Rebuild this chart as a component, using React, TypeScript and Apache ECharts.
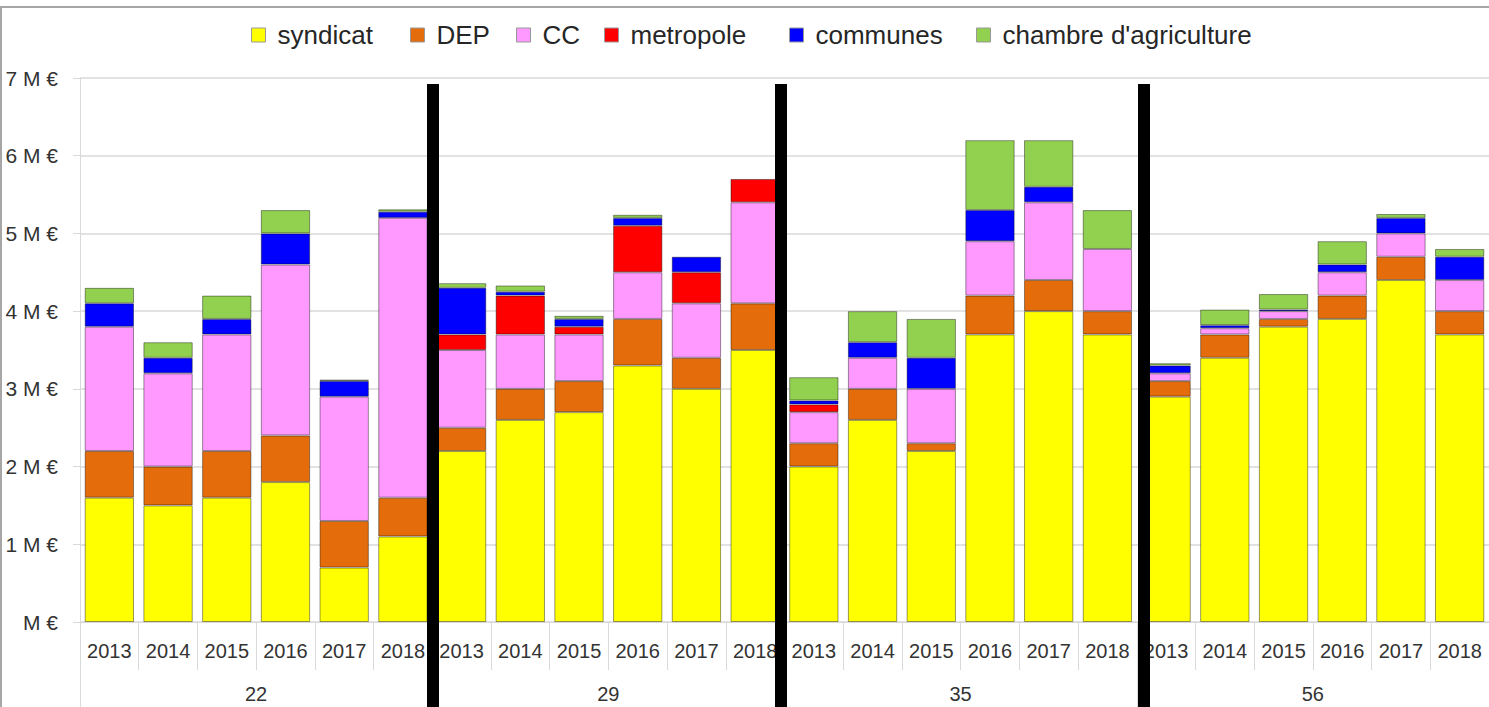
import React, { useEffect, useRef } from "react";
import * as echarts from "echarts";

const groups = ["22", "29", "35", "56"];
const years = ["2013", "2014", "2015", "2016", "2017", "2018"];
const seriesNames = ["syndicat", "DEP", "CC", "metropole", "communes", "chambre d'agriculture"];
const seriesColors = ["#FFFF00", "#E46C0A", "#FF99FF", "#FF0000", "#0000FF", "#92D050"];

// values in M€ — order: group 22 (2013..2018), 29, 35, 56
const syndicat = [1.6, 1.5, 1.6, 1.8, 0.7, 1.1, 2.2, 2.6, 2.7, 3.3, 3.0, 3.5, 2.0, 2.6, 2.2, 3.7, 4.0, 3.7, 2.9, 3.4, 3.8, 3.9, 4.4, 3.7];
const dep = [0.6, 0.5, 0.6, 0.6, 0.6, 0.5, 0.3, 0.4, 0.4, 0.6, 0.4, 0.6, 0.3, 0.4, 0.1, 0.5, 0.4, 0.3, 0.2, 0.3, 0.1, 0.3, 0.3, 0.3];
const cc = [1.6, 1.2, 1.5, 2.2, 1.6, 3.6, 1.0, 0.7, 0.6, 0.6, 0.7, 1.3, 0.4, 0.4, 0.7, 0.7, 1.0, 0.8, 0.1, 0.08, 0.1, 0.3, 0.3, 0.4];
const metropole = [0, 0, 0, 0, 0, 0, 0.2, 0.5, 0.1, 0.6, 0.4, 0.3, 0.1, 0, 0, 0, 0, 0, 0, 0, 0, 0, 0, 0];
const communes = [0.3, 0.2, 0.2, 0.4, 0.2, 0.08, 0.6, 0.05, 0.1, 0.1, 0.2, 0, 0.05, 0.2, 0.4, 0.4, 0.2, 0, 0.1, 0.04, 0.02, 0.1, 0.2, 0.3];
const chambre = [0.2, 0.2, 0.3, 0.3, 0.02, 0.03, 0.06, 0.08, 0.04, 0.04, 0, 0, 0.3, 0.4, 0.5, 0.9, 0.6, 0.5, 0.03, 0.2, 0.2, 0.3, 0.05, 0.1];
const seriesValues = [syndicat, dep, cc, metropole, communes, chambre];

const FONT = "'Liberation Sans', Arial, sans-serif";
const legendLefts = [251, 410, 516, 604, 789, 976];
const separatorXs = [427, 775, 1138];

export default function App() {
  const ref = useRef<HTMLDivElement>(null);
  useEffect(() => {
    if (!ref.current) return;
    const chart = echarts.init(ref.current, null, { renderer: "svg" });
    const categories: string[] = [];
    groups.forEach(() => years.forEach((y) => categories.push(y)));

    const option: any = {
      animation: false,
      backgroundColor: "#ffffff",
      legend: seriesNames.map((n, i) => ({
        data: [n],
        left: legendLefts[i],
        top: 22,
        padding: 0,
        icon: "rect",
        itemWidth: 14,
        itemHeight: 14,
        itemGap: 0,
        selectedMode: false,
        itemStyle: { borderColor: "#999999", borderWidth: 1 },
        textStyle: { fontFamily: FONT, fontSize: 26, color: "#262626", padding: [0, 0, 0, 7] },
      })),
      grid: { left: 80, top: 78, width: 1412, height: 544, containLabel: false },
      xAxis: [
        {
          type: "category",
          data: categories,
          position: "bottom",
          axisLine: { show: true, lineStyle: { color: "#d9d9d9", width: 1 } },
          axisTick: { show: true, length: 48, interval: 0, lineStyle: { color: "#d9d9d9" } },
          axisLabel: { interval: 0, margin: 19, fontFamily: FONT, fontSize: 20, color: "#333333" },
          splitLine: { show: false },
        },
        {
          type: "category",
          data: groups,
          position: "bottom",
          axisLine: { show: false },
          axisTick: { show: true, length: 95, interval: 0, lineStyle: { color: "#d9d9d9" } },
          axisLabel: { interval: 0, margin: 62, fontFamily: FONT, fontSize: 20, color: "#333333" },
          splitLine: { show: false },
        },
      ],
      yAxis: {
        type: "value",
        min: 0,
        max: 7,
        interval: 1,
        axisLine: { show: true, lineStyle: { color: "#d9d9d9" } },
        axisTick: { show: true, length: 7, lineStyle: { color: "#d9d9d9" } },
        axisLabel: {
          margin: 22,
          fontFamily: FONT,
          fontSize: 21,
          color: "#333333",
          formatter: (v: number) => (v === 0 ? "M €" : `${v} M €`),
        },
        splitLine: { show: true, lineStyle: { color: "#d9d9d9", width: 1.5 } },
      },
      series: seriesNames.map((n, i) => ({
        name: n,
        type: "bar",
        stack: "total",
        xAxisIndex: 0,
        barCategoryGap: "16%",
        itemStyle: { color: seriesColors[i], borderColor: "rgba(0,0,0,0.4)", borderWidth: 1 },
        data: seriesValues[i].map((v) => (v === 0 ? null : v)),
      })),
      graphic: [
        {
          type: "rect",
          z: 100,
          silent: true,
          shape: { x: 1, y: 7, width: 1600, height: 800 },
          style: { fill: "none", stroke: "#a6a6a6", lineWidth: 2 },
        },
        ...separatorXs.map((x) => ({
          type: "rect",
          z: 100,
          silent: true,
          shape: { x, y: 84, width: 12, height: 630 },
          style: { fill: "#000000" },
        })),
      ],
    };
    chart.setOption(option);
    return () => chart.dispose();
  }, []);
  return (
    <div
      ref={ref}
      style={{ position: "absolute", left: 0, top: 0, width: 1489, height: 707, background: "#fff" }}
    />
  );
}
